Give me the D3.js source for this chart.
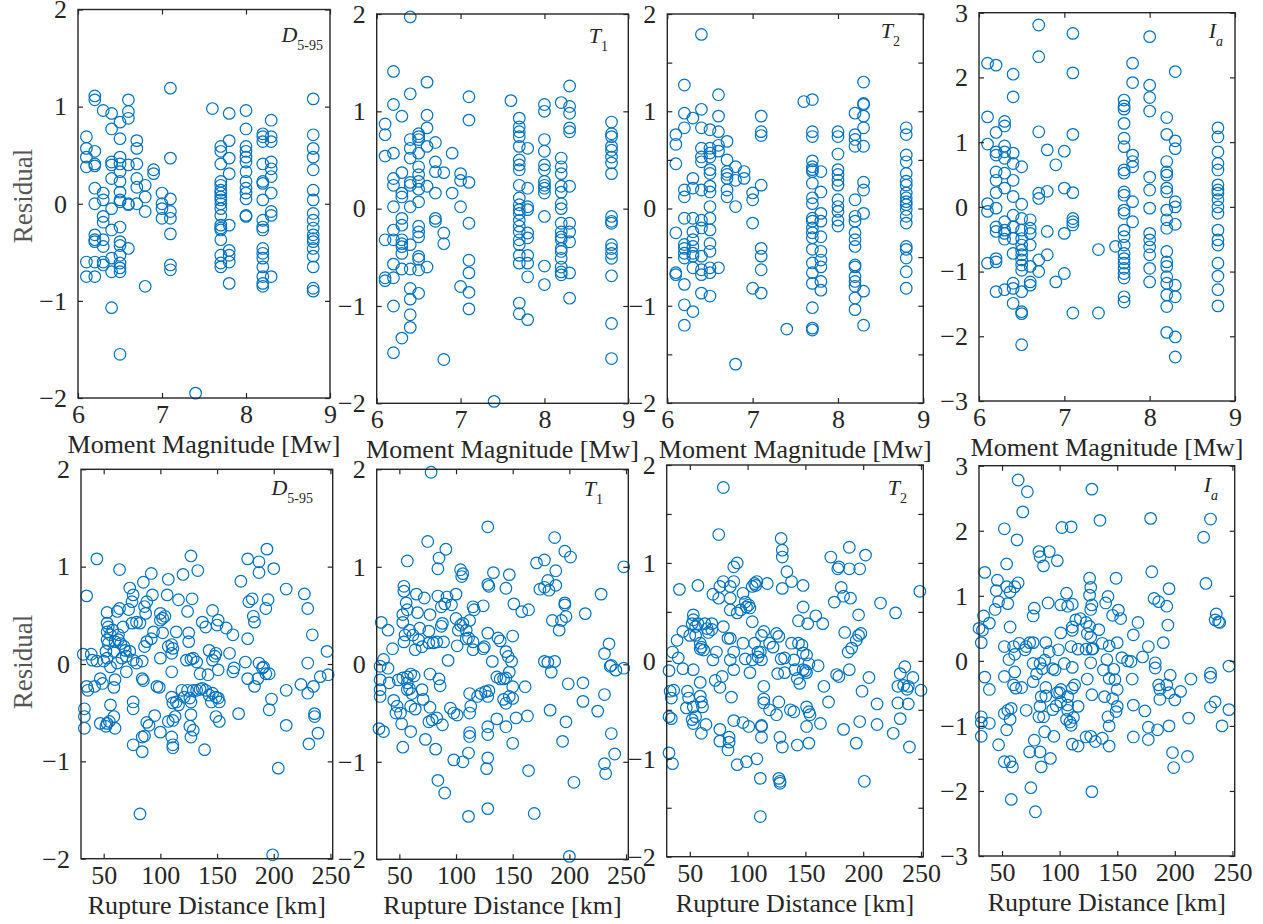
<!DOCTYPE html>
<html>
<head>
<meta charset="utf-8">
<script src="https://cdn.jsdelivr.net/npm/d3@7"></script>
<style>
  body { margin: 0; background: #fff; }
  svg text { font-family: "Liberation Serif", "Times New Roman", serif; }
</style>
</head>
<body>
<svg id="chart" width="1263" height="924"></svg>
<script>
// residuals grouped by moment magnitude: [Mw, [residuals...]]
const mwD595 = [
  [6.1, [0.69, 0.57, 0.48, 0.38, -0.60, -0.75]],
  [6.2, [1.11, 1.07, 0.54, 0.41, 0.39, 0.16, 0.0, -0.32, -0.37, -0.39, -0.60, -0.75]],
  [6.3, [0.96, 0.11, 0.04, -0.13, -0.19, -0.37, -0.44, -0.60, -0.63]],
  [6.4, [0.93, 0.77, 0.43, 0.40, 0.26, -0.05, -0.27, -0.56, -0.70, -1.07]],
  [6.5, [0.84, 0.67, 0.48, 0.41, 0.33, 0.23, 0.12, 0.04, 0.02, -0.24, -0.39, -0.43, -0.53, -0.61, -0.66, -0.70, -1.55]],
  [6.6, [1.07, 0.95, 0.88, 0.40, 0.00, -0.01, -0.46]],
  [6.7, [0.65, 0.57, 0.41, 0.26, 0.17, 0.00]],
  [6.8, [0.19, 0.07, -0.08, -0.85]],
  [6.9, [0.35, 0.31]],
  [7.0, [0.11, 0.00, -0.05, -0.15]],
  [7.1, [1.19, 0.47, 0.05, -0.08, -0.15, -0.31, -0.63, -0.68]],
  [7.4, [-1.95]],
  [7.6, [0.98]],
  [7.7, [0.59, 0.54, 0.41, 0.23, 0.19, 0.14, 0.11, 0.07, 0.04, 0.00, -0.05, -0.12, -0.22, -0.25, -0.27, -0.37, -0.53, -0.61, -0.65]],
  [7.8, [0.93, 0.65, 0.47, 0.31, -0.22, -0.48, -0.53, -0.60, -0.82]],
  [8.0, [0.96, 0.77, 0.59, 0.54, 0.48, 0.43, 0.33, 0.23, 0.16, 0.11, 0.05, -0.12, -0.13]],
  [8.2, [0.72, 0.69, 0.64, 0.41, 0.23, 0.21, 0.04, -0.17, -0.24, -0.27, -0.46, -0.51, -0.56, -0.65, -0.75, -0.82, -0.85]],
  [8.3, [0.86, 0.69, 0.64, 0.43, 0.36, 0.28, 0.11, -0.08, -0.12, -0.75]],
  [8.8, [1.08, 0.71, 0.57, 0.48, 0.35, 0.14, 0.04, -0.10, -0.17, -0.25, -0.32, -0.36, -0.39, -0.46, -0.54, -0.65, -0.87, -0.90]]
];

const mwT1 = [
  [6.1, [0.87, 0.76, 0.54, -0.32, -0.71, -0.74]],
  [6.2, [1.41, 1.07, 0.57, 0.31, 0.24, 0.02, -0.22, -0.32, -0.57, -0.71, -1.00, -1.48]],
  [6.3, [0.95, 0.37, 0.16, 0.12, -0.10, -0.17, -0.32, -0.36, -0.39, -0.46, -0.62, -1.33]],
  [6.4, [1.97, 1.18, 0.71, 0.62, 0.52, 0.27, 0.24, 0.02, -0.37, -0.62, -0.82, -0.93, -1.09, -1.22]],
  [6.5, [0.77, 0.74, 0.71, 0.57, 0.43, 0.35, 0.28, 0.20, 0.07, -0.18, -0.24, -0.29, -0.49, -0.52, -0.63, -0.87]],
  [6.6, [1.30, 0.96, 0.83, 0.64, 0.23, -0.60]],
  [6.7, [0.68, 0.48, 0.38, 0.16, -0.10, -0.13]],
  [6.8, [0.37, -0.25, -0.36, -1.55]],
  [6.9, [0.57, 0.16]],
  [7.0, [0.36, 0.29, 0.02, -0.80]],
  [7.1, [1.15, 0.91, 0.27, -0.15, -0.53, -0.66, -0.86, -1.03]],
  [7.4, [-1.98]],
  [7.6, [1.11]],
  [7.7, [0.93, 0.84, 0.79, 0.74, 0.64, 0.50, 0.45, 0.40, 0.24, 0.11, 0.04, -0.01, -0.05, -0.12, -0.18, -0.24, -0.32, -0.37, -0.48, -0.56, -0.97, -1.08]],
  [7.8, [0.62, 0.21, 0.02, -0.01, -0.25, -0.30, -0.48, -0.56, -0.70, -1.14]],
  [8.0, [1.07, 1.00, 0.71, 0.59, 0.45, 0.40, 0.28, 0.24, 0.21, 0.16, -0.08, -0.59, -0.78]],
  [8.2, [1.09, 0.52, 0.43, 0.36, 0.23, 0.17, 0.05, 0.00, -0.15, -0.24, -0.29, -0.32, -0.41, -0.44, -0.51, -0.60, -0.65, -0.68]],
  [8.3, [1.26, 1.05, 0.98, 0.83, 0.79, 0.23, -0.15, -0.24, -0.34, -0.66, -0.92]],
  [8.8, [0.89, 0.77, 0.74, 0.64, 0.60, 0.53, 0.47, 0.36, -0.08, -0.13, -0.15, -0.37, -0.41, -0.46, -0.51, -0.69, -1.18, -1.54]]
];

const mwT2 = [
  [6.1, [0.76, 0.66, 0.46, -0.25, -0.66, -0.68]],
  [6.2, [1.27, 0.98, 0.83, 0.19, 0.12, -0.10, -0.37, -0.41, -0.46, -0.51, -0.78, -0.99, -1.20]],
  [6.3, [0.93, 0.31, 0.21, -0.10, -0.24, -0.32, -0.39, -0.46, -0.49, -0.61, -1.06]],
  [6.4, [1.79, 1.02, 0.83, 0.62, 0.53, 0.48, 0.19, -0.12, -0.20, -0.49, -0.63, -0.68, -0.87]],
  [6.5, [0.81, 0.62, 0.57, 0.53, 0.40, 0.36, 0.23, 0.17, 0.02, -0.10, -0.22, -0.36, -0.44, -0.61, -0.66, -0.90]],
  [6.6, [1.17, 0.95, 0.79, 0.65, 0.59, -0.61]],
  [6.7, [0.69, 0.50, 0.38, 0.35, 0.31, 0.19, 0.12]],
  [6.8, [0.43, 0.29, 0.02, -1.60]],
  [6.9, [0.38, 0.31]],
  [7.0, [0.16, 0.09, -0.15, -0.82]],
  [7.1, [0.95, 0.79, 0.75, 0.24, -0.41, -0.49, -0.63, -0.87]],
  [7.4, [-1.24]],
  [7.6, [1.10]],
  [7.7, [1.12, 0.79, 0.74, 0.49, 0.43, 0.40, 0.38, 0.26, 0.11, 0.05, -0.10, -0.13, -0.20, -0.25, -0.30, -0.42, -0.56, -0.66, -0.77, -1.02, -1.23, -1.25]],
  [7.8, [0.38, 0.17, -0.05, -0.13, -0.29, -0.44, -0.53, -0.60, -0.75, -0.84]],
  [8.0, [0.79, 0.74, 0.56, 0.40, 0.35, 0.29, 0.24, 0.09, 0.02, -0.03, -0.12, -0.18]],
  [8.2, [0.98, 0.76, 0.71, 0.64, 0.09, -0.08, -0.13, -0.25, -0.32, -0.39, -0.58, -0.60, -0.70, -0.75, -0.80, -0.92, -1.04]],
  [8.3, [1.30, 1.08, 1.07, 0.95, 0.83, 0.64, 0.27, 0.19, -0.05, -0.85, -1.20]],
  [8.8, [0.83, 0.76, 0.55, 0.48, 0.36, 0.28, 0.24, 0.16, 0.11, 0.07, 0.04, -0.01, -0.08, -0.15, -0.39, -0.42, -0.51, -0.65, -0.82]]
];

const mwIa = [
  [6.1, [2.22, 1.39, 0.97, 0.05, -0.07, -0.87]],
  [6.2, [2.19, 1.15, 0.85, 0.80, 0.54, 0.41, 0.22, -0.02, -0.31, -0.38, -0.80, -0.85, -1.31]],
  [6.3, [1.32, 1.25, 0.94, 0.85, 0.75, 0.52, 0.29, -0.23, -0.36, -0.41, -0.50, -1.28]],
  [6.4, [2.05, 1.70, 0.83, 0.67, 0.41, 0.16, -0.13, -0.31, -0.49, -0.72, -1.18, -1.26, -1.49]],
  [6.5, [0.62, 0.04, -0.18, -0.36, -0.49, -0.59, -0.67, -0.74, -0.82, -0.90, -0.98, -1.31, -1.62, -1.65, -2.13]],
  [6.6, [-0.20, -0.33, -0.41, -0.59, -0.92, -1.16, -1.21]],
  [6.7, [2.81, 2.32, 1.16, 0.21, 0.13, -0.82, -1.00]],
  [6.8, [0.88, 0.24, -0.38, -0.74]],
  [6.9, [0.65, -1.16]],
  [7.0, [0.86, 0.29, -0.41, -1.03]],
  [7.1, [2.68, 2.07, 1.12, 0.22, -0.18, -0.23, -0.28, -1.64]],
  [7.4, [-0.66, -1.64]],
  [7.6, [-0.61]],
  [7.7, [1.65, 1.56, 1.51, 1.29, 1.06, 0.93, 0.57, 0.52, 0.23, 0.18, -0.05, -0.10, -0.36, -0.46, -0.59, -0.72, -0.80, -0.87, -0.95, -1.03, -1.10, -1.39, -1.47]],
  [7.8, [2.22, 1.92, 0.80, 0.70, 0.62, 0.08, -0.23]],
  [8.0, [2.63, 1.88, 1.69, 1.48, 0.46, 0.26, -0.02, -0.41, -0.51, -0.62, -0.74, -0.95, -1.16]],
  [8.2, [1.38, 1.12, 0.70, 0.54, 0.49, 0.29, 0.23, -0.05, -0.20, -0.33, -0.69, -0.85, -0.92, -1.08, -1.18, -1.36, -1.54, -1.94]],
  [8.3, [2.09, 1.02, 0.90, 0.08, 0.00, -0.27, -1.21, -1.39, -2.01, -2.32]],
  [8.8, [1.22, 1.08, 0.85, 0.67, 0.57, 0.34, 0.26, 0.21, 0.11, 0.00, -0.10, -0.36, -0.51, -0.59, -0.87, -1.07, -1.28, -1.53]]
];

// [rupture distance km, residual]
const rrupD595 = [[44,1.08],[64,0.97],[35,0.70],[92,0.93],[85,0.84],[73,0.78],[76,0.71],[93,0.71],[107,0.87],[106,0.71],[116,0.66],[120,0.92],[127,1.11],[133,0.96],[128,0.67],[124,0.54],[88,0.64],[75,0.64],[72,0.56],[64,0.57],[62,0.54],[53,0.53],[53,0.42],[54,0.38],[53,0.33],[56,0.30],[58,0.35],[63,0.30],[67,0.38],[75,0.42],[79,0.43],[82,0.42],[86,0.59],[87,0.52],[100,0.52],[102,0.47],[100,0.45],[104,0.49],[102,0.32],[94,0.33],[92,0.26],[88,0.23],[86,0.18],[114,0.33],[125,0.32],[125,0.23],[110,0.20],[107,0.18],[111,0.16],[110,0.11],[100,0.06],[110,-0.08],[53,0.25],[54,0.21],[60,0.23],[63,0.25],[65,0.21],[68,0.18],[69,0.14],[59,0.13],[52,0.13],[53,0.06],[56,-0.03],[62,0.01],[66,0.06],[70,0.08],[73,0.13],[76,0.04],[79,0.01],[84,0.03],[70,-0.08],[32,0.10],[39,0.10],[40,0.04],[44,0.03],[50,0.03],[35,-0.23],[36,-0.27],[42,-0.23],[47,-0.15],[49,-0.20],[60,-0.16],[59,-0.24],[56,-0.42],[59,-0.54],[60,-0.66],[47,-0.61],[52,-0.64],[53,-0.61],[55,-0.59],[33,-0.46],[33,-0.54],[33,-0.66],[76,-0.39],[76,-0.46],[76,-0.83],[84,-0.15],[85,-0.17],[84,-0.75],[84,-0.90],[86,-0.74],[82,-1.54],[88,-0.60],[90,-0.63],[95,-0.53],[97,-0.23],[99,-0.24],[100,-0.70],[107,-0.59],[111,-0.58],[113,-0.54],[110,-0.75],[111,-0.83],[111,-0.86],[110,-0.34],[111,-0.40],[114,-0.39],[116,-0.42],[119,-0.27],[121,-0.34],[124,-0.27],[126,-0.35],[127,-0.39],[129,-0.27],[132,-0.27],[135,-0.26],[137,-0.25],[127,-0.52],[126,-0.64],[129,-0.68],[127,-0.75],[123,0.04],[127,0.05],[129,0.06],[132,0.02],[135,-0.10],[139,-0.88],[137,0.43],[140,0.38],[146,0.55],[151,0.45],[150,0.40],[143,0.14],[146,0.04],[148,0.08],[149,0.11],[142,-0.11],[140,-0.27],[143,-0.32],[145,-0.39],[146,-0.30],[149,-0.34],[151,-0.35],[152,-0.39],[149,-0.54],[152,-0.59],[151,-0.06],[158,0.37],[164,0.30],[161,0.11],[164,-0.08],[165,-0.04],[169,-0.51],[171,0.85],[177,1.08],[177,0.26],[175,0.02],[177,-0.15],[178,0.64],[181,0.67],[182,0.49],[183,0.43],[183,-0.23],[186,-0.15],[187,1.05],[187,0.94],[187,0.01],[190,-0.04],[191,-0.03],[193,-0.10],[193,0.57],[195,0.66],[194,1.18],[196,-0.10],[196,-0.47],[198,-0.36],[200,0.98],[199,-1.96],[204,-1.07],[211,0.77],[211,-0.27],[211,-0.63],[224,-0.21],[227,0.72],[230,0.57],[230,0.01],[230,-0.30],[231,-0.82],[234,0.30],[235,-0.23],[236,-0.51],[236,-0.54],[239,-0.71],[241,-0.13],[247,0.13],[248,-0.11]];

const rrupT1 = [[78,1.97],[128,1.41],[187,1.30],[75,1.26],[91,1.18],[85,1.09],[84,0.98],[57,1.06],[104,0.97],[106,0.93],[105,0.90],[133,0.94],[128,0.82],[129,0.80],[147,0.92],[144,0.78],[151,0.62],[158,0.54],[164,0.56],[171,1.04],[178,1.07],[196,1.16],[201,1.10],[188,0.96],[181,0.86],[188,0.81],[174,0.77],[178,0.79],[182,0.76],[196,0.63],[196,0.61],[197,0.49],[185,0.45],[193,0.45],[191,0.35],[214,0.52],[228,0.72],[248,1.00],[235,0.21],[231,0.11],[237,-0.01],[236,-0.02],[241,-0.06],[248,-0.04],[178,0.03],[181,0.02],[187,0.03],[184,-0.08],[199,-0.20],[212,-0.19],[212,-0.38],[225,-0.48],[231,-0.31],[237,-0.71],[240,-0.92],[231,-1.02],[232,-1.12],[204,-1.21],[200,-1.97],[194,-0.79],[197,-0.59],[183,-0.47],[164,-1.09],[169,-1.53],[163,-0.53],[161,-0.23],[153,-0.55],[150,-0.81],[150,0.29],[149,0.03],[144,0.13],[146,0.08],[137,0.27],[139,0.24],[132,0.03],[136,-0.13],[139,-0.15],[142,-0.15],[144,-0.14],[147,-0.08],[150,-0.23],[147,-0.33],[150,-0.35],[142,-0.36],[144,-0.40],[136,-0.56],[144,-0.64],[128,0.32],[125,0.18],[124,0.16],[115,0.23],[115,0.15],[115,0.59],[116,0.56],[124,0.60],[112,0.45],[109,0.35],[106,0.42],[104,0.40],[102,0.35],[100,0.47],[111,0.27],[109,0.26],[101,0.19],[100,0.72],[96,0.61],[92,0.69],[90,0.62],[87,0.59],[84,0.70],[88,0.42],[87,0.39],[89,0.23],[83,0.23],[80,0.22],[76,0.22],[77,0.51],[72,0.68],[65,0.72],[66,0.53],[68,0.37],[76,0.34],[67,0.25],[64,0.15],[70,0.18],[62,0.30],[59,0.35],[54,0.80],[54,0.75],[56,0.63],[57,0.56],[53,0.51],[53,0.43],[55,0.30],[54,0.23],[34,0.43],[40,0.35],[44,0.16],[36,0.05],[33,-0.02],[40,-0.04],[33,-0.16],[41,-0.19],[33,-0.26],[33,-0.33],[32,-0.66],[36,-0.69],[45,-0.37],[48,-0.43],[47,-0.50],[51,-0.50],[52,-0.61],[53,-0.85],[49,-0.16],[53,-0.14],[57,-0.13],[60,-0.10],[63,-0.12],[57,-0.19],[59,-0.25],[61,-0.30],[57,-0.26],[70,-0.26],[71,-0.36],[60,-0.43],[64,-0.46],[60,-0.69],[73,-0.77],[82,-0.87],[77,-0.10],[85,-0.15],[86,-0.22],[77,-0.44],[76,-0.59],[79,-0.57],[83,-0.55],[88,-0.62],[93,0.04],[95,-0.45],[98,-0.50],[101,-0.52],[112,-0.30],[113,-0.43],[112,-0.50],[112,-0.70],[112,-0.74],[111,-0.91],[106,-1.00],[98,-0.98],[119,-0.33],[122,-0.30],[126,-0.28],[128,-0.33],[129,-0.27],[128,-0.64],[128,-0.72],[128,-0.96],[127,-1.07],[128,-1.48],[111,-1.56],[84,-1.19],[90,-1.32]];

const rrupT2 = [[79,1.77],[75,1.29],[41,0.73],[57,0.77],[70,0.68],[75,0.64],[76,0.76],[79,0.81],[85,0.76],[88,0.81],[88,0.96],[91,1.00],[85,0.64],[85,0.52],[91,0.49],[94,0.52],[96,0.69],[98,0.60],[101,0.57],[102,0.54],[99,0.55],[104,0.40],[104,0.76],[106,0.79],[108,0.81],[107,0.77],[117,0.79],[130,0.74],[129,1.25],[130,1.13],[130,1.06],[134,0.91],[138,0.81],[148,0.77],[148,0.55],[144,0.41],[152,0.38],[159,0.46],[165,0.38],[172,1.06],[179,0.96],[178,0.94],[188,1.16],[188,0.94],[197,0.94],[202,1.08],[181,0.75],[183,0.66],[189,0.64],[175,0.60],[196,0.47],[215,0.59],[228,0.49],[249,0.71],[184,0.29],[187,0.09],[190,0.13],[194,0.21],[196,0.26],[198,0.28],[188,-0.09],[179,-0.16],[177,-0.14],[205,-0.17],[166,-0.26],[170,-0.42],[163,-0.64],[161,-0.05],[183,-0.70],[197,-0.62],[194,-0.84],[199,-0.31],[212,-0.44],[212,-0.65],[201,-1.23],[226,-0.74],[240,-0.88],[232,-0.59],[230,-0.43],[230,-0.26],[232,-0.13],[236,-0.06],[239,-0.26],[238,-0.29],[239,-0.44],[243,-0.17],[250,-0.30],[235,-0.25],[153,-0.03],[150,-0.10],[151,-0.12],[148,-0.09],[145,-0.23],[143,-0.18],[141,-0.09],[138,0.18],[144,0.18],[147,0.16],[148,0.08],[151,0.06],[140,0.01],[132,0.03],[129,0.02],[126,-0.13],[132,-0.12],[125,0.28],[127,0.25],[119,0.18],[122,0.14],[114,0.30],[112,0.26],[111,0.09],[109,0.09],[109,0.04],[112,0.01],[114,-0.26],[114,-0.39],[114,-0.43],[112,-0.66],[112,-0.67],[112,-0.78],[119,-0.50],[125,-0.55],[127,-0.42],[137,-0.50],[140,-0.52],[143,-0.86],[153,-0.84],[151,-0.67],[151,-0.47],[153,-0.52],[154,-0.55],[128,-0.78],[130,-0.88],[127,-1.20],[128,-1.23],[128,-1.25],[111,-1.20],[111,-1.59],[108,-1.00],[99,-1.03],[91,-1.06],[104,0.01],[102,-0.12],[106,0.18],[98,0.02],[96,0.18],[88,0.09],[85,0.01],[88,-0.09],[85,0.23],[83,0.23],[79,0.35],[73,0.09],[70,0.01],[72,-0.20],[76,-0.27],[78,-0.16],[86,-0.37],[88,-0.61],[96,-0.63],[101,-0.67],[76,-0.70],[76,-0.82],[84,-0.78],[84,-0.83],[83,-0.91],[69,0.38],[63,0.38],[65,0.33],[66,0.29],[69,0.32],[59,0.18],[60,0.14],[62,0.11],[59,0.12],[53,0.47],[53,0.42],[52,0.38],[55,0.35],[57,0.38],[55,0.26],[50,0.26],[44,0.30],[39,0.21],[35,0.09],[40,0.03],[44,-0.08],[53,-0.09],[59,-0.22],[32,-0.10],[33,-0.31],[34,-0.38],[36,-0.30],[48,-0.31],[49,-0.38],[47,-0.48],[53,-0.47],[59,-0.36],[60,-0.42],[61,-0.47],[55,-0.57],[52,-0.60],[53,-0.64],[60,-0.74],[64,-0.65],[32,-0.57],[34,-0.59],[32,-0.94],[35,-1.05]];

const rrupIa = [[64,2.78],[72,2.60],[68,2.29],[52,2.03],[63,1.86],[102,2.05],[110,2.06],[128,2.64],[135,2.16],[179,2.19],[231,2.18],[225,1.90],[227,1.19],[82,1.68],[91,1.68],[83,1.60],[86,1.46],[98,1.54],[54,1.49],[35,1.36],[46,1.24],[45,1.08],[54,1.14],[64,1.20],[61,1.14],[57,1.06],[55,0.88],[47,0.91],[44,0.79],[34,0.69],[39,0.58],[30,0.50],[33,0.47],[32,0.28],[57,0.52],[78,0.81],[77,0.69],[90,0.89],[101,0.86],[106,1.04],[107,0.84],[111,0.87],[101,0.43],[111,0.47],[114,0.63],[118,0.65],[126,1.27],[127,1.13],[126,1.01],[128,0.86],[127,0.79],[123,0.59],[126,0.53],[124,0.42],[127,0.37],[134,0.48],[142,0.99],[140,0.89],[149,1.27],[146,0.70],[151,0.78],[153,0.65],[168,0.59],[164,0.40],[172,0.06],[180,1.37],[182,0.96],[186,0.91],[193,0.84],[195,1.11],[194,0.55],[190,0.28],[177,0.22],[183,-0.03],[183,-0.11],[159,0.00],[162,-0.01],[154,0.05],[150,0.28],[143,0.23],[137,0.27],[129,0.19],[123,0.18],[116,0.18],[110,0.22],[111,0.52],[91,0.14],[88,0.28],[74,0.28],[77,0.28],[71,0.22],[70,0.17],[65,0.27],[60,0.22],[52,0.22],[56,0.02],[61,0.10],[83,-0.04],[77,-0.04],[85,-0.12],[94,-0.12],[96,-0.14],[111,-0.10],[127,-0.03],[128,0.18],[141,0.02],[147,-0.13],[138,-0.14],[143,-0.27],[148,-0.29],[150,-0.44],[146,-0.58],[150,-0.70],[149,-0.78],[142,-0.86],[143,-1.00],[139,-0.55],[124,-0.28],[128,-0.52],[127,-1.16],[123,-1.17],[131,-1.24],[137,-1.19],[143,-1.31],[128,-2.01],[163,-0.28],[164,-0.68],[164,-1.17],[174,-0.77],[177,-1.02],[177,-1.21],[185,-1.06],[195,-1.00],[186,-0.37],[187,-0.44],[187,-0.59],[193,-0.37],[196,-0.22],[195,-0.49],[200,-0.60],[205,-0.47],[214,-0.28],[198,-1.41],[199,-1.64],[211,-1.47],[212,-0.88],[231,-0.19],[231,-0.25],[231,-0.71],[235,-0.63],[235,0.63],[236,0.72],[238,0.60],[239,0.59],[247,-0.08],[247,-0.75],[241,-1.00],[101,-0.44],[100,-0.49],[101,-0.63],[107,-0.55],[107,-0.68],[107,-0.76],[106,-0.90],[109,-0.94],[112,-0.87],[110,-0.99],[111,-0.42],[113,-0.37],[116,-0.70],[111,-1.28],[116,-1.31],[97,-0.69],[94,-0.75],[98,-0.49],[88,-0.41],[88,-0.54],[84,-0.55],[83,-0.70],[82,-0.86],[86,-0.86],[87,-1.09],[95,-1.16],[92,-1.50],[84,-1.63],[83,-1.40],[78,-1.22],[74,-1.40],[75,-1.95],[79,-2.32],[58,-2.13],[57,-1.55],[59,-1.63],[52,-1.55],[54,-1.06],[47,-1.29],[32,-1.16],[32,-0.95],[32,-0.86],[39,-0.96],[52,-0.81],[55,-0.76],[58,-0.73],[57,-0.90],[71,-0.76],[52,-0.24],[61,-0.17],[62,-0.42],[67,-0.41],[60,-0.37],[35,-0.25],[39,-0.44],[77,-0.32],[87,0.01],[80,-0.20],[104,-0.04],[99,0.17]];

const mwTicks = [6, 7, 8, 9];
const rrupTicks = [50, 100, 150, 200, 250];

const svg = d3.select('#chart');
const blue = '#0072bd';
const ink = '#262626';

function byMag(groups) {
    return groups.flatMap(([m, vals]) => vals.map(v => [m, v]));
}

// box: [left, top, right, bottom]; lab: [right edge, baseline] of the panel tag
const panels = [
    { pts: byMag(mwD595), xDom: [6, 9], xTicks: mwTicks, yDom: [-2, 2], yStep: 1, box: [78, 9.5, 330, 398], tag: 'D', sub: '5-95', subIt: false, lab: [323, 42], xTitle: 'Moment Magnitude [Mw]', yTitle: 196 },
    { pts: byMag(mwT1), xDom: [6, 9], xTicks: mwTicks, yDom: [-2, 2], yStep: 1, box: [376.7, 14, 628.3, 403.3], tag: 'T', sub: '1', subIt: false, lab: [608, 43], xTitle: 'Moment Magnitude [Mw]' },
    { pts: byMag(mwT2), xDom: [6, 9], xTicks: mwTicks, yDom: [-2, 2], yStep: 0.5, box: [667.3, 14, 923.3, 403], tag: 'T', sub: '2', subIt: false, lab: [900, 38], xTitle: 'Moment Magnitude [Mw]' },
    { pts: byMag(mwIa), xDom: [6, 9], xTicks: mwTicks, yDom: [-3, 3], yStep: 1, box: [979, 12.7, 1235, 401], tag: 'I', sub: 'a', subIt: true, lab: [1223, 38], xTitle: 'Moment Magnitude [Mw]' },
    { pts: rrupD595, xDom: [30, 252], xTicks: rrupTicks, yDom: [-2, 2], yStep: 1, box: [81, 469.3, 332.7, 858.7], tag: 'D', sub: '5-95', subIt: false, lab: [313, 495], xTitle: 'Rupture Distance [km]', yTitle: 662 },
    { pts: rrupT1, xDom: [30, 252], xTicks: rrupTicks, yDom: [-2, 2], yStep: 1, box: [376.7, 469.3, 628.3, 859.3], tag: 'T', sub: '1', subIt: false, lab: [603, 496], xTitle: 'Rupture Distance [km]' },
    { pts: rrupT2, xDom: [30, 252], xTicks: rrupTicks, yDom: [-2, 2], yStep: 0.5, box: [666.7, 465, 923.3, 856.7], tag: 'T', sub: '2', subIt: false, lab: [907, 495], xTitle: 'Rupture Distance [km]' },
    { pts: rrupIa, xDom: [30, 252], xTicks: rrupTicks, yDom: [-3, 3], yStep: 1, box: [979, 465.7, 1234.7, 856], tag: 'I', sub: 'a', subIt: true, lab: [1218, 492], xTitle: 'Rupture Distance [km]' }
];

const fmtInt = d3.format('d');

panels.forEach(p => {
    const [L, T, R, B] = p.box;
    const g = svg.append('g');

    const x = d3.scaleLinear().domain(p.xDom).range([L, R]);
    const y = d3.scaleLinear().domain(p.yDom).range([B, T]);
    const yTicks = d3.range(p.yDom[0], p.yDom[1] + 1e-9, p.yStep);

    g.selectAll('circle')
        .data(p.pts)
        .join('circle')
        .attr('cx', d => x(d[0]))
        .attr('cy', d => y(d[1]))
        .attr('r', 5.8)
        .attr('fill', 'none')
        .attr('stroke', blue)
        .attr('stroke-width', 1.2);

    const axes = [
        g.append('g').attr('transform', `translate(0,${B})`)
            .call(d3.axisBottom(x).tickValues(p.xTicks).tickSize(-5).tickPadding(6.5).tickFormat(fmtInt)),
        g.append('g').attr('transform', `translate(0,${T})`)
            .call(d3.axisTop(x).tickValues(p.xTicks).tickSize(-5).tickFormat('')),
        g.append('g').attr('transform', `translate(${L},0)`)
            .call(d3.axisLeft(y).tickValues(yTicks).tickSize(-5).tickPadding(11)
                .tickFormat(d => Number.isInteger(d) ? fmtInt(d) : '')),
        g.append('g').attr('transform', `translate(${R},0)`)
            .call(d3.axisRight(y).tickValues(yTicks).tickSize(-5).tickFormat(''))
    ];
    axes.forEach(a => {
        a.select('.domain').remove();
        a.selectAll('line').attr('stroke', ink).attr('stroke-width', 1.2);
        a.selectAll('text')
            .style('font-size', '26px')
            .style('font-family', '"Liberation Serif", "Times New Roman", serif')
            .attr('fill', ink);
    });

    g.append('rect')
        .attr('x', L).attr('y', T)
        .attr('width', R - L).attr('height', B - T)
        .attr('fill', 'none')
        .attr('stroke', ink)
        .attr('stroke-width', 1.4);

    const tag = g.append('text')
        .attr('x', p.lab[0])
        .attr('y', p.lab[1])
        .attr('text-anchor', 'end')
        .attr('fill', ink);
    tag.append('tspan')
        .attr('font-style', 'italic')
        .style('font-size', '22px')
        .text(p.tag);
    tag.append('tspan')
        .attr('dy', 8)
        .attr('font-style', p.subIt ? 'italic' : 'normal')
        .style('font-size', '14px')
        .text(p.sub);

    g.append('text')
        .attr('x', (L + R) / 2)
        .attr('y', B + 55)
        .attr('text-anchor', 'middle')
        .attr('fill', ink)
        .style('font-size', '26px')
        .text(p.xTitle);

    if (p.yTitle) {
        g.append('text')
            .attr('transform', `translate(32,${p.yTitle}) rotate(-90)`)
            .attr('text-anchor', 'middle')
            .attr('fill', '#555')
            .style('font-size', '27px')
            .text('Residual');
    }
});
</script>
</body>
</html>
